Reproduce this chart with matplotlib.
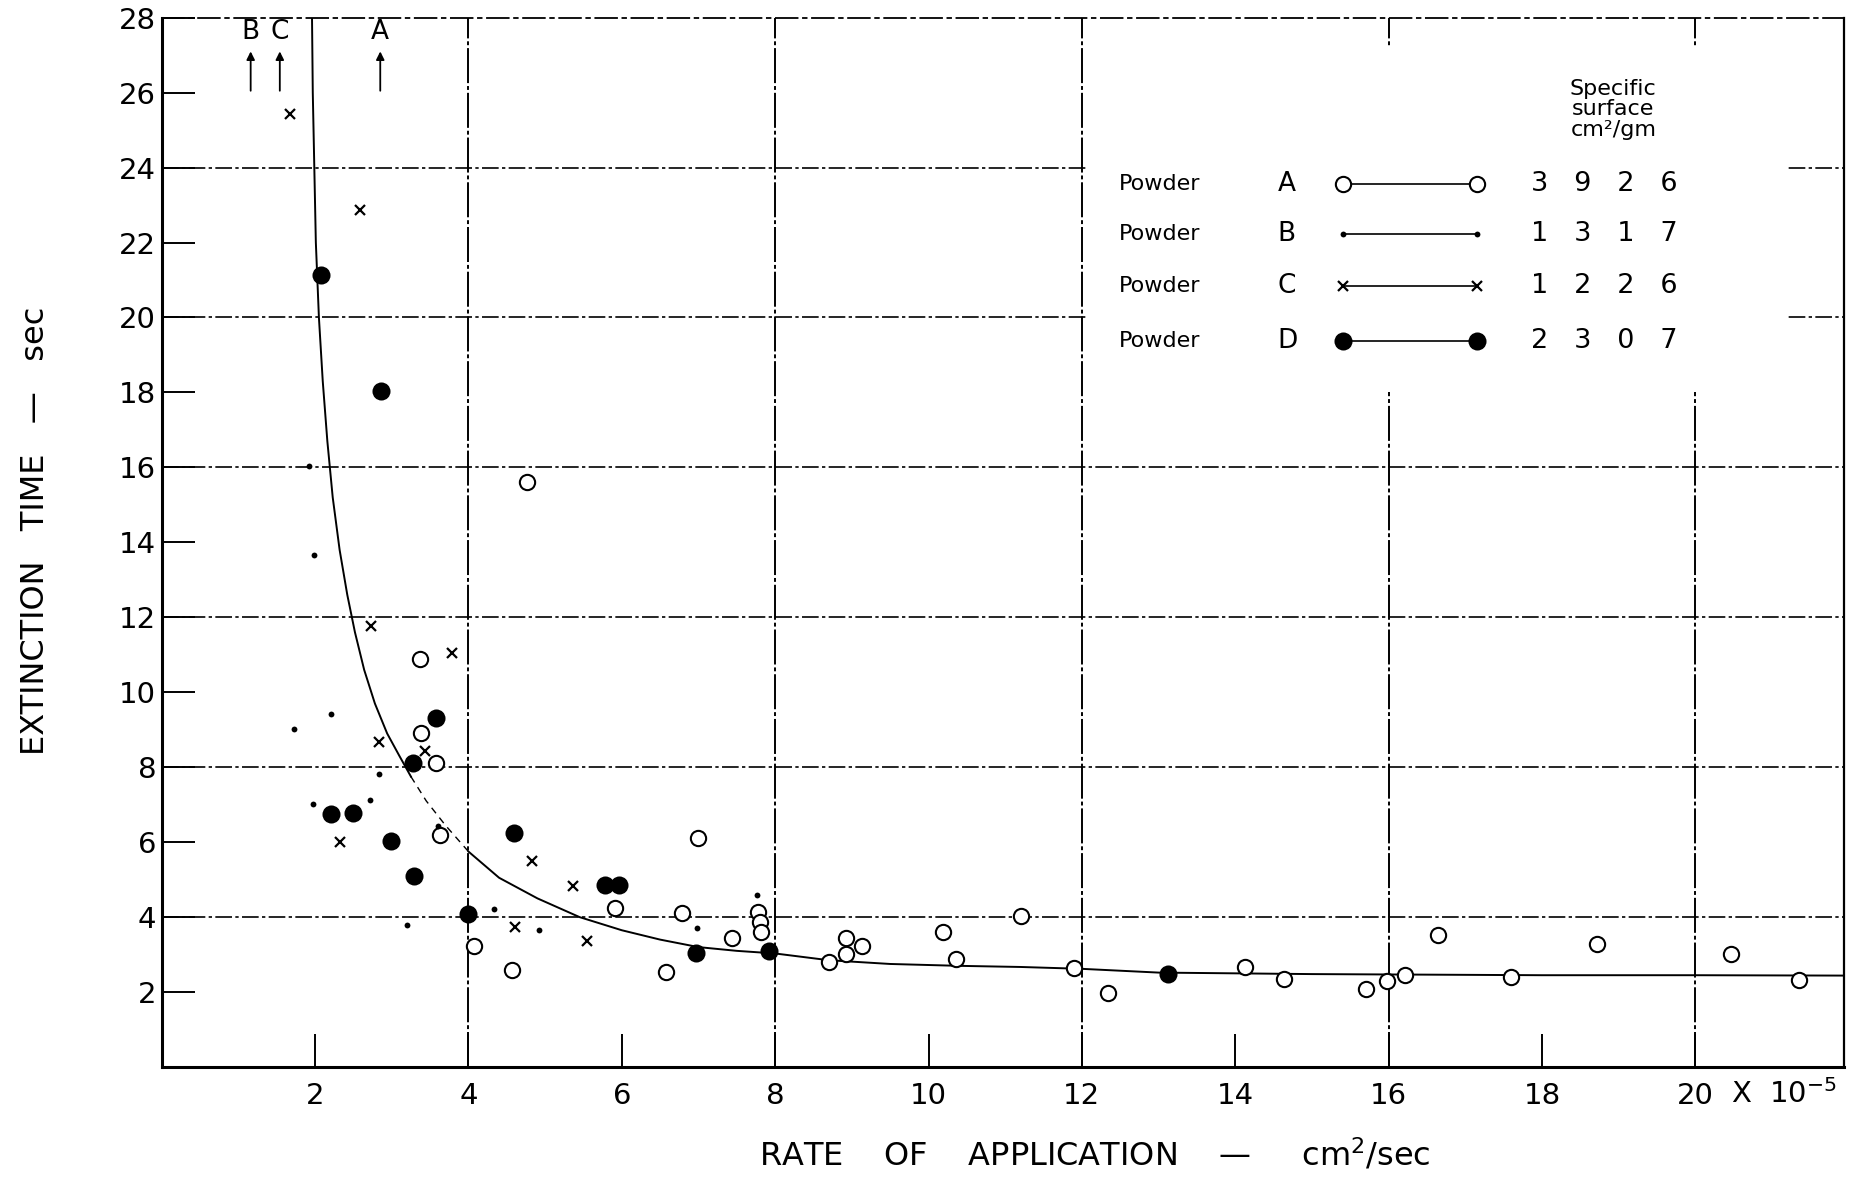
import matplotlib
matplotlib.use("Agg")
import matplotlib.pyplot as plt
from matplotlib.patches import Rectangle

plt.rcParams["font.family"] = ["DejaVu Sans"]
NARROW = ["Liberation Sans Narrow", "DejaVu Sans"]

# ---------------------------------------------------------------- data
# rate of application (x 1e-5 cm2/sec) vs extinction time (sec)
powder_a_rate = [4.76, 3.37, 3.38, 3.58, 3.63, 7.00, 5.91, 6.79, 7.44, 7.77, 7.80, 7.82,
                 4.07, 4.57, 6.58, 8.70, 8.93, 9.13, 8.93, 10.19, 10.36, 11.21, 11.90,
                 12.34, 14.13, 14.64, 15.71, 15.98, 16.22, 16.65, 17.60, 18.72, 20.46, 21.35]
powder_a_time = [15.6, 10.9, 8.9, 8.1, 6.2, 6.1, 4.25, 4.12, 3.45, 4.13, 3.87, 3.6,
                 3.22, 2.59, 2.53, 2.79, 3.44, 3.22, 3.01, 3.6, 2.88, 4.03, 2.65,
                 1.98, 2.68, 2.34, 2.07, 2.29, 2.45, 3.51, 2.40, 3.28, 3.01, 2.31]

powder_b_rate = [1.92, 1.99, 2.21, 1.72, 2.84, 1.97, 2.71, 3.60, 3.20, 4.33, 4.92, 6.98, 7.76]
powder_b_time = [16.05, 13.65, 9.43, 9.01, 7.81, 7.02, 7.13, 6.44, 3.80, 4.22, 3.65, 3.70, 4.58]

powder_c_rate = [1.67, 2.58, 2.73, 3.78, 2.83, 3.44, 2.33, 4.83, 5.37, 4.61, 5.54]
powder_c_time = [25.44, 22.86, 11.78, 11.06, 8.66, 8.43, 6.01, 5.51, 4.83, 3.73, 3.37]

powder_d_rate = [2.08, 2.86, 3.58, 3.28, 2.21, 2.50, 2.99, 3.29, 4.60, 5.78, 5.97,
                 4.00, 6.97, 7.92, 13.12]
powder_d_time = [21.13, 18.04, 9.30, 8.10, 6.76, 6.78, 6.04, 5.09, 6.24, 4.85, 4.85,
                 4.08, 3.05, 3.10, 2.49]

# hand-drawn mean curve, traced point by point
curve_rate = [1.96, 1.97, 1.99, 2.01, 2.05, 2.10, 2.16, 2.23, 2.32, 2.42, 2.52, 2.64,
              2.78, 2.94, 3.10, 3.25, 3.45, 3.70, 4.00, 4.40, 4.90, 5.45, 6.00, 6.50,
              7.00, 7.50, 8.00, 8.70, 9.50, 10.40, 11.20, 12.00, 13.00, 14.00, 15.00,
              16.00, 18.00, 20.00, 21.94]
curve_time = [28.0, 26.0, 24.0, 22.0, 20.0, 18.3, 16.7, 15.2, 13.8, 12.6, 11.6, 10.6,
              9.7, 8.9, 8.3, 7.75, 7.1, 6.45, 5.75, 5.05, 4.5, 4.0, 3.65, 3.4,
              3.2, 3.1, 3.03, 2.85, 2.75, 2.7, 2.67, 2.62, 2.52, 2.5, 2.48,
              2.47, 2.45, 2.45, 2.44]

powder_names = ["A", "B", "C", "D"]
specific_surface = [3926, 1317, 1226, 2307]

arrow_names = ["B", "C", "A"]
arrow_rate = [1.16, 1.54, 2.85]

x_ticks = [2, 4, 6, 8, 10, 12, 14, 16, 18, 20]
y_ticks = [2, 4, 6, 8, 10, 12, 14, 16, 18, 20, 22, 24, 26, 28]

# ---------------------------------------------------------------- styles
styles = {
    "A": dict(marker="o", ms=11, mfc="white", mec="black", mew=1.5),
    "B": dict(marker="o", ms=4.2, mfc="black", mec="black", mew=0),
    "C": dict(marker="x", ms=6.5, mec="black", mew=1.6),
    "D": dict(marker="o", ms=13, mfc="black", mec="black", mew=0),
}
series = {
    "A": (powder_a_rate, powder_a_time),
    "B": (powder_b_rate, powder_b_time),
    "C": (powder_c_rate, powder_c_time),
    "D": (powder_d_rate, powder_d_time),
}

fig = plt.figure(figsize=(18.61, 11.78), dpi=100)
ax = fig.add_axes([0.0869, 0.0942, 0.9040, 0.8908])
ax.set_xlim(0, 21.94)
ax.set_ylim(0, 28)

# grid (dash-dot, like the printed graph paper)
for gx in [4, 8, 12, 16, 20]:
    ax.axvline(gx, color="black", lw=1.4, ls=(0, (18, 1.5, 2, 1.5)), zorder=1)
for gy in [4, 8, 12, 16, 20, 24]:
    ax.axhline(gy, color="black", lw=1.2, ls=(0, (10, 2, 2, 2)), zorder=1)

# legend panel blanks the grid behind it
ax.add_patch(Rectangle((12.08, 18.0), 8.92, 9.25, facecolor="white",
                       edgecolor="none", zorder=1.5))
ax.add_patch(Rectangle((19.9, 18.0), 1.3, 8.45, facecolor="white",
                       edgecolor="none", zorder=1.5))

# mean curve: solid, a faint dashed stretch, solid again
ax.plot(curve_rate[:16], curve_time[:16], color="black", lw=1.4, zorder=2)
ax.plot(curve_rate[15:19], curve_time[15:19], color="black", lw=1.0,
        ls=(0, (5, 4)), zorder=2)
ax.plot(curve_rate[18:], curve_time[18:], color="black", lw=1.4, zorder=2)

for name in powder_names:
    xs, ys = series[name]
    ax.plot(xs, ys, ls="none", zorder=3, **styles[name])

# arrows marking powders at the top left
for name, xr in zip(arrow_names, arrow_rate):
    ax.annotate("", xy=(xr, 27.1), xytext=(xr, 26.05),
                arrowprops=dict(arrowstyle="-|>", color="black", lw=1.3,
                                mutation_scale=12, shrinkA=0, shrinkB=0))
    ax.text(xr, 27.62, name, ha="center", va="center", fontsize=19)

# legend table
row_y = [23.56, 22.23, 20.84, 19.38]
for name, surf, ry in zip(powder_names, specific_surface, row_y):
    ax.text(12.48, ry, "Powder", ha="left", va="center", fontsize=16, zorder=4)
    ax.text(14.55, ry, name, ha="left", va="center", fontsize=19, zorder=4)
    ax.plot([15.40, 17.15], [ry, ry], color="black", lw=1.2, zorder=4, **styles[name])
    ax.text(17.86, ry, "   ".join(str(surf)), ha="left", va="center",
            fontsize=19.5, zorder=4)
ax.text(18.93, 25.55, "Specific\nsurface\ncm²/gm", ha="center", va="center",
        fontsize=16, linespacing=1.05, zorder=4)

# spines
for side in ["left", "bottom"]:
    ax.spines[side].set_linewidth(2.2)
ax.spines["right"].set_linewidth(1.6)
ax.spines["top"].set_linewidth(1.3)
ax.spines["top"].set_linestyle((0, (12, 3, 2, 3)))

# ticks
ax.set_xticks(x_ticks)
ax.set_xticklabels([str(t) for t in x_ticks], fontsize=21, family=NARROW)
ax.set_yticks(y_ticks)
ax.set_yticklabels([str(t) for t in y_ticks], fontsize=21, family=NARROW)
ax.tick_params(direction="in", length=24, width=1.4, color="black")
ax.tick_params(axis="x", pad=11)
ax.tick_params(axis="y", pad=4)

ax.text(20.47, -0.0257, "X  10$^{-5}$", transform=ax.get_xaxis_transform(),
        ha="left", va="center", fontsize=21)

fig.text(0.5884, 0.0195, "RATE    OF    APPLICATION    —     cm$^2$/sec",
         ha="center", va="center", fontsize=23)
fig.text(0.0191, 0.5497, "EXTINCTION   TIME   —   sec", rotation=90,
         ha="center", va="center", fontsize=23)

fig.savefig("out.png", dpi=100)
